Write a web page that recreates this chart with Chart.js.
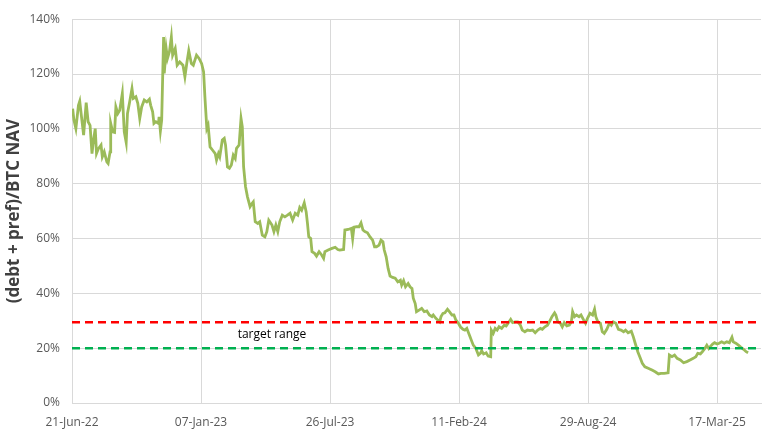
<!DOCTYPE html>
<html>
<head>
<meta charset="utf-8">
<script src="https://cdn.jsdelivr.net/npm/chart.js@4.4.1/dist/chart.umd.min.js"></script>
<style>
  body { margin: 0; background: #fff; }
  #wrap { width: 768px; height: 439px; }
</style>
</head>
<body>
<div id="wrap"><canvas id="myChart" width="768" height="439"></canvas></div>
<script>
// x = days since 21-Jun-22, y = (debt + pref) / BTC NAV in %
var tickLabels = ['21-Jun-22', '07-Jan-23', '26-Jul-23', '11-Feb-24', '29-Aug-24', '17-Mar-25'];
var tickStep = 200;
var lastDay = 1068;

var dayOffsets = [1,3,6,10,12,15,18,22,25,28,31,33,36,38,41,45,47,50,54,56,59,60,63,66,68,71,74,78,81,84,86,89,93,95,99,102,105,108,112,116,120,122,125,127,130,134,135,137,139,142,143,146,148,151,154,156,160,163,167,172,175,178,181,185,188,193,197,201,204,206,209,211,214,218,222,224,227,229,233,236,238,241,244,247,250,253,255,259,262,264,266,269,272,276,279,281,284,288,291,295,299,302,305,310,313,316,319,322,326,330,334,338,342,346,350,353,356,360,363,365,367,370,372,376,379,383,387,390,392,397,403,408,412,415,421,423,428,433,435,437,441,445,448,451,454,458,462,466,469,472,476,479,482,484,487,490,493,497,501,505,509,511,514,517,521,524,527,529,532,534,538,542,546,550,554,558,560,564,567,570,572,575,578,582,585,589,592,595,599,602,606,609,612,614,617,620,622,626,630,633,635,638,642,645,649,650,653,656,659,662,666,670,673,676,680,683,687,691,695,698,702,706,710,714,718,722,726,729,733,737,740,744,748,750,753,757,760,763,767,771,774,776,779,782,786,789,793,796,799,803,807,810,812,815,819,822,825,829,833,836,839,843,847,851,855,858,862,867,870,873,877,881,884,888,894,899,904,909,913,918,924,926,930,934,938,943,948,953,958,963,967,970,974,977,981,984,987,989,993,996,1000,1003,1007,1011,1015,1019,1023,1025,1029,1033,1037,1041,1045,1048];

var navRatio = [107.4,103.2,100.1,108.6,110.1,103.8,97.7,109.6,102.6,101.3,91.0,95.3,100.1,91.0,92.8,94.1,89.8,91.6,88.0,87.4,91.6,102.0,98.9,98.7,108.0,105.6,106.8,112.9,98.9,95.0,105.6,109.3,114.7,111.1,111.7,109.3,103.8,108.0,110.5,109.8,110.8,108.6,106.2,102.0,102.6,102.0,104.4,99.2,103.2,133.5,120.2,129.3,125.7,128.1,133.5,126.9,129.3,123.2,124.4,123.2,119.0,124.0,128.5,123.8,123.2,126.9,125.7,123.8,120.8,111.7,100.1,101.3,93.4,92.2,91.0,88.6,91.0,89.8,95.9,96.5,94.1,86.1,85.6,86.8,90.4,89.2,92.9,94.1,103.8,100.7,86.1,78.9,75.2,71.6,72.8,73.4,66.1,65.5,66.1,61.2,60.6,62.5,66.7,64.9,62.5,64.9,62.5,66.1,68.5,67.9,68.5,69.2,66.7,69.2,68.5,71.3,70.3,73.0,69.7,65.5,60.6,60.0,55.2,54.6,53.6,55.2,54.0,52.8,55.2,55.8,56.4,56.8,56.0,55.8,56.0,63.1,63.3,63.7,60.0,64.1,64.3,64.3,65.7,63.1,62.5,62.1,60.6,59.4,57.0,57.0,57.6,59.4,58.8,55.8,53.3,49.1,46.3,45.8,45.5,44.2,44.8,43.0,44.6,42.4,43.6,42.4,41.8,38.2,36.3,33.3,33.9,34.5,33.3,33.6,32.1,31.5,32.1,30.9,30.3,29.6,31.5,32.7,32.9,34.2,33.3,32.1,32.1,30.3,29.1,27.8,26.9,26.6,27.2,26.0,24.2,22.3,21.1,19.9,17.5,18.1,19.1,17.9,18.3,17.1,16.9,26.6,25.4,27.2,26.6,27.8,27.2,28.4,28.1,29.1,30.5,29.3,29.6,29.6,28.4,26.6,26.0,26.6,26.4,26.6,25.6,26.6,27.2,26.9,27.8,28.4,29.6,31.5,32.9,32.1,29.6,29.1,27.8,29.3,28.1,28.4,29.6,33.3,31.5,32.1,31.5,32.1,30.3,29.1,30.9,32.7,32.1,34.2,31.5,29.6,29.1,26.0,25.4,26.9,29.1,28.4,29.6,29.1,26.9,26.6,26.0,26.6,25.6,26.2,24.2,21.8,18.7,16.3,14.5,13.2,12.6,12.0,11.4,10.6,10.8,10.8,11.0,17.5,16.9,17.5,16.3,15.7,14.7,15.1,15.7,16.3,16.9,18.1,17.9,18.7,19.9,21.1,19.9,20.5,21.5,22.0,21.5,21.8,22.3,21.8,22.3,22.0,24.0,22.3,21.8,21.1,20.3,19.6,18.7,18.3];

var targetHigh = 29.5;
var targetLow = 20;
var targetLabel = 'target range';
var targetLabelPos = { x: 310, y: 24.8 };

var series = dayOffsets.map(function (d, i) { return { x: d, y: navRatio[i] }; });

function flatLine(v) {
  return [{ x: 0, y: v }, { x: lastDay, y: v }];
}

// writes "target range" between the two dashed lines
var labelPlugin = {
  id: 'targetText',
  afterDatasetsDraw: function (chart) {
    var ctx = chart.ctx;
    ctx.save();
    ctx.font = '12px "Open Sans"';
    ctx.fillStyle = '#000';
    ctx.textAlign = 'center';
    ctx.textBaseline = 'middle';
    ctx.fillText(targetLabel, chart.scales.x.getPixelForValue(targetLabelPos.x), chart.scales.y.getPixelForValue(targetLabelPos.y));
    ctx.restore();
  }
};

var ctx = document.getElementById('myChart').getContext('2d');
var myChart = new Chart(ctx, {
  type: 'line',
  data: {
    datasets: [{
      data: flatLine(targetHigh),
      borderColor: '#ff0000',
      borderWidth: 2.5,
      borderDash: [8, 5],
      pointRadius: 0
    }, {
      data: flatLine(targetLow),
      borderColor: '#00b050',
      borderWidth: 2.5,
      borderDash: [8, 5],
      pointRadius: 0
    }, {
      data: series,
      borderColor: '#9bbb59',
      borderWidth: 2.8,
      pointRadius: 0,
      tension: 0
    }]
  },
  plugins: [labelPlugin],
  options: {
    responsive: false,
    animation: false,
    layout: { padding: { left: 0, right: 7, top: 19, bottom: 0 } },
    plugins: { legend: { display: false }, tooltip: { enabled: false } },
    scales: {
      x: {
        type: 'linear',
        min: 0,
        max: lastDay,
        afterFit: function (s) { s.height = 36; },
        grid: { color: '#d9d9d9', drawTicks: false },
        border: { color: '#d9d9d9' },
        ticks: {
          stepSize: tickStep,
          includeBounds: false,
          maxRotation: 0,
          padding: 12,
          color: '#595959',
          font: { family: 'Open Sans', size: 12 },
          callback: function (v) {
            return v % tickStep === 0 ? tickLabels[v / tickStep] : '';
          }
        }
      },
      y: {
        min: 0,
        max: 140,
        afterFit: function (s) { s.width = 72; },
        grid: { color: '#d9d9d9', drawTicks: false },
        border: { color: '#d9d9d9' },
        title: {
          display: true,
          text: '(debt + pref)/BTC NAV',
          color: '#404040',
          font: { family: 'Open Sans', size: 17, weight: 'bold' },
          padding: { top: 4, bottom: 0 }
        },
        ticks: {
          stepSize: 20,
          padding: 12,
          color: '#595959',
          font: { family: 'Open Sans', size: 12 },
          callback: function (v) { return v + '%'; }
        }
      }
    }
  }
});
</script>
</body>
</html>
